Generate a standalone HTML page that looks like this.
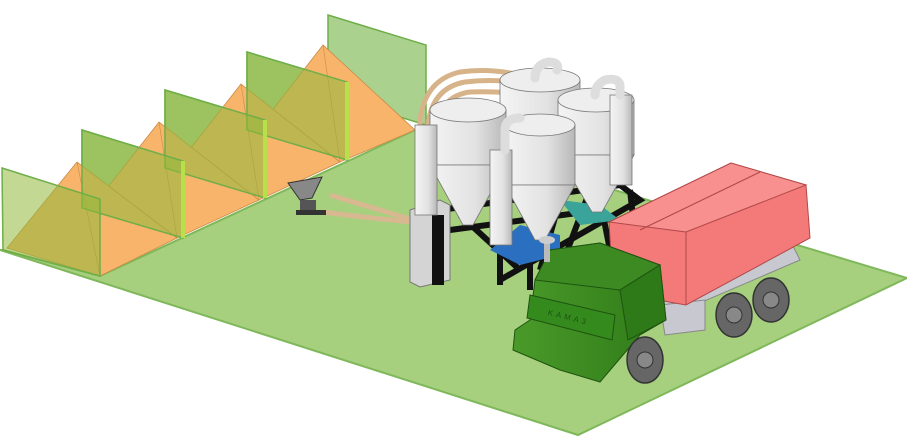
<!DOCTYPE html>
<html><head><meta charset="utf-8"><style>html,body{margin:0;padding:0;background:#fff}svg{display:block}</style></head>
<body>
<svg width="907" height="437" viewBox="0 0 907 437" xmlns="http://www.w3.org/2000/svg">
<defs>
<linearGradient id="sil" x1="0" x2="1"><stop offset="0" stop-color="#f4f4f4"/><stop offset="0.6" stop-color="#e2e2e2"/><stop offset="1" stop-color="#b8b8b8"/></linearGradient>
<linearGradient id="cab" x1="0" x2="1"><stop offset="0" stop-color="#4a9a2a"/><stop offset="1" stop-color="#2f7a18"/></linearGradient>
</defs>
<polygon points="0,250 578,435 907,278 415,130 100,276 3,250" fill="#a6cf7e" stroke="#7fb85a" stroke-width="2"/>
<g fill="#9cc97a" fill-opacity="0.85" stroke="#6fae48" stroke-width="1.5">
<polygon points="328,15 426,45 426,125 328,95"/>
<polygon points="247,52 347,82 347,160 247,130"/>
<polygon points="165,90 265,120 265,198 165,168"/>
<polygon points="82,130 183,161 183,238 82,208"/>
</g>
<g fill="#f7b46a" stroke="#c98a44" stroke-width="0.8">
<polygon points="323,45 254,134 340,162 415,130"/>
<polygon points="241,84 172,172 259,200 340,162"/>
<polygon points="159,122 90,210 177,238 259,200"/>
<polygon points="77,162 7,248 100,276 177,238"/>
</g>
<g stroke="#c98a44" stroke-width="0.6" fill="none">
<line x1="323" y1="45" x2="340" y2="162"/><line x1="241" y1="84" x2="259" y2="200"/><line x1="159" y1="122" x2="177" y2="238"/><line x1="77" y1="162" x2="100" y2="276"/>
</g>
<g fill="#8fb83a" fill-opacity="0.55" stroke="#6fae48" stroke-width="1.5">
<polygon points="247,52 347,82 347,160 247,130"/>
<polygon points="165,90 265,120 265,198 165,168"/>
<polygon points="82,130 183,161 183,238 82,208"/>
<polygon points="2,168 100,199 100,276 3,250"/>
</g>
<g fill="#b8e04a">
<rect x="345" y="82" width="4" height="78"/><rect x="263" y="120" width="4" height="78"/><rect x="181" y="161" width="4" height="77"/>
</g>
<path d="M330,195 Q380,210 420,222" stroke="#d8b890" stroke-width="5" fill="none"/>
<path d="M322,212 Q370,218 412,222" stroke="#d8b890" stroke-width="5" fill="none"/>
<polygon points="288,183 322,177 312,198 300,200" fill="#888" stroke="#333"/>
<rect x="300" y="200" width="16" height="12" fill="#555"/>
<rect x="296" y="210" width="30" height="5" fill="#333"/>
<g stroke="#111" stroke-width="6" fill="none">
<path d="M440,210 L620,185 L640,200 L500,280 M450,230 L600,210 L630,240 M500,240 L500,285 M530,250 L530,290 M560,200 L540,270 M600,200 L610,250 M460,215 L520,270 M590,190 L560,270 M630,190 L635,235"/>
</g>
<polygon points="490,250 520,225 560,235 560,255 520,265" fill="#2a6fc0"/>
<polygon points="560,200 600,205 620,220 580,225" fill="#3aa39a"/>
<polygon points="410,210 440,200 450,205 450,280 420,287 410,282" fill="#d4d4d4" stroke="#777"/>
<rect x="432" y="215" width="12" height="70" fill="#111"/>
<g stroke="#d7b389" stroke-width="5" fill="none">
<path d="M420,170 L420,120 Q425,80 460,72 Q510,65 560,90"/>
<path d="M428,175 L428,125 Q432,88 465,82 Q520,75 580,100"/>
<path d="M436,175 L436,130 Q440,96 470,92 Q530,90 585,108"/>
</g>
<g stroke="#777" stroke-width="0.8">
<g><rect x="500" y="80" width="80" height="50" fill="url(#sil)"/><ellipse cx="540" cy="80" rx="40" ry="12" fill="#eee"/><polygon points="500,130 580,130 545,195 535,195" fill="url(#sil)"/></g>
<g><rect x="558" y="100" width="76" height="55" fill="url(#sil)"/><ellipse cx="596" cy="100" rx="38" ry="12" fill="#eee"/><polygon points="558,155 634,155 602,212 592,212" fill="url(#sil)"/></g>
<g><rect x="430" y="110" width="76" height="55" fill="url(#sil)"/><ellipse cx="468" cy="110" rx="38" ry="12" fill="#eee"/><polygon points="430,165 506,165 473,225 463,225" fill="url(#sil)"/></g>
<g><rect x="505" y="125" width="70" height="60" fill="url(#sil)"/><ellipse cx="540" cy="125" rx="35" ry="11" fill="#eee"/><polygon points="505,185 575,185 545,240 535,240" fill="url(#sil)"/></g>
<rect x="490" y="150" width="22" height="95" fill="url(#sil)"/>
<rect x="610" y="95" width="22" height="90" fill="url(#sil)"/>
<rect x="415" y="125" width="22" height="90" fill="url(#sil)"/>
</g>
<g stroke="#ddd" stroke-width="9" fill="none" stroke-linecap="round">
<path d="M505,150 L505,130 Q505,118 520,118"/><path d="M620,95 L620,85 Q618,77 605,80 Q595,85 595,95"/><path d="M557,70 Q560,62 548,62 Q535,65 535,78"/>
</g>
<polygon points="650,300 790,240 800,260 660,320" fill="#c8c8d0" stroke="#888"/>
<polygon points="660,305 705,300 705,330 665,335" fill="#c8c8d0" stroke="#888"/>
<polygon points="609,222 731,163 806,185 810,238 686,305 658,300 612,270" fill="#f47a7a" stroke="#b04848"/>
<polygon points="609,222 731,163 806,185 686,232" fill="#f89090" stroke="#b04848"/>
<line x1="640" y1="230" x2="760" y2="172" stroke="#b04848"/>
<line x1="686" y1="232" x2="686" y2="305" stroke="#b04848"/>
<g fill="#666" stroke="#333" stroke-width="1.5">
<ellipse cx="771" cy="300" rx="18" ry="22"/><ellipse cx="734" cy="315" rx="18" ry="22"/>
</g>
<g fill="#888" stroke="#333"><circle cx="771" cy="300" r="8"/><circle cx="734" cy="315" r="8"/></g>
<polygon points="550,250 600,243 660,265 666,320 640,335 600,382 560,370 513,350 515,330 530,320 535,280" fill="url(#cab)" stroke="#1e5410"/>
<polygon points="535,280 550,250 600,243 660,265 620,290" fill="#3d8a22" stroke="#1e5410"/>
<polygon points="620,290 660,265 666,320 628,340" fill="#2f7a18" stroke="#1e5410"/>
<polygon points="530,295 615,315 612,340 527,318" fill="#358a1e" stroke="#1e5410"/>
<text x="547" y="318" font-family="Liberation Sans, sans-serif" font-size="8" fill="#1e5410" transform="rotate(14 560 318)" letter-spacing="3">KAMA3</text>
<ellipse cx="645" cy="360" rx="18" ry="23" fill="#666" stroke="#333" stroke-width="1.5"/>
<circle cx="645" cy="360" r="8" fill="#888" stroke="#333"/>
<rect x="544" y="240" width="6" height="22" fill="#bbb"/><ellipse cx="547" cy="240" rx="8" ry="4" fill="#ccc"/>
</svg>
</body></html>
